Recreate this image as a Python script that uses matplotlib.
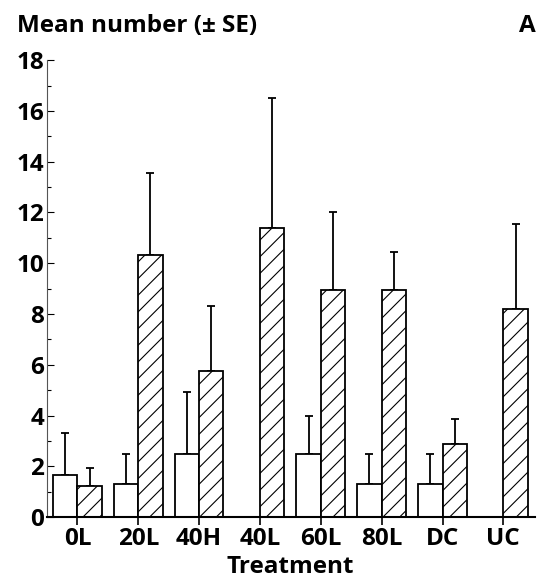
import numpy as np
import matplotlib
matplotlib.use("Agg")
import matplotlib.pyplot as plt
from matplotlib.ticker import MultipleLocator

treatments = ["0L", "20L", "40H", "40L", "60L", "80L", "DC", "UC"]
open_mean = [1.67, 1.29, 2.5, 0, 2.5, 1.29, 1.29, 0]
open_se = [1.65, 1.21, 2.43, 0, 1.47, 1.21, 1.21, 0]
hatch_mean = [1.23, 10.34, 5.76, 11.37, 8.96, 8.96, 2.88, 8.2]
hatch_se = [0.72, 3.22, 2.56, 5.13, 3.04, 1.47, 0.97, 3.35]

plt.rcParams['font.family'] = ['Open Sans', 'DejaVu Sans']
plt.rcParams['hatch.linewidth'] = 0.8

fig = plt.figure(figsize=(5.38, 5.79), dpi=100)
ax = fig.add_axes([0.0874, 0.107, 0.907, 0.789])

x = np.arange(len(treatments))
w = 0.4

# only the upper error bar is drawn
ax.bar(x - w / 2, open_mean, w, color="white", edgecolor="black", linewidth=1.3, zorder=2)
ax.bar(x + w / 2, hatch_mean, w, color="white", edgecolor="black", linewidth=1.3,
       hatch="//", zorder=2)

for xi, m, e in zip(x - w / 2, open_mean, open_se):
    if m > 0:
        ax.errorbar(xi, m, yerr=[[0], [e]], fmt="none", ecolor="black",
                    elinewidth=1.3, capsize=3, capthick=1.3, zorder=1)
for xi, m, e in zip(x + w / 2, hatch_mean, hatch_se):
    if m > 0:
        ax.errorbar(xi, m, yerr=[[0], [e]], fmt="none", ecolor="black",
                    elinewidth=1.3, capsize=3, capthick=1.3, zorder=1)

ax.set_xlim(-0.5, 7.52)
ax.set_ylim(0, 18)
ax.set_xticks(x)
ax.set_xticklabels(treatments, fontsize=17.5, fontweight="bold")
ax.yaxis.set_major_locator(MultipleLocator(2))
ax.yaxis.set_minor_locator(MultipleLocator(1))
for lab in ax.get_yticklabels():
    lab.set_fontsize(17.5)
    lab.set_fontweight("bold")

ax.tick_params(axis="y", which="major", direction="in", length=5, width=0.8, pad=2)
ax.tick_params(axis="y", which="minor", direction="in", length=3, width=0.8)
ax.tick_params(axis="x", which="major", direction="out", length=6, width=1.2, pad=1)

ax.spines["top"].set_visible(False)
ax.spines["right"].set_visible(False)
ax.spines["left"].set_linewidth(0.8)
ax.spines["left"].set_color("#555555")
ax.spines["bottom"].set_linewidth(1.5)

fig.text(0.54, 0.021, "Treatment", fontsize=17.5, fontweight="bold",
         ha="center", va="center")
fig.text(0.032, 0.955, "Mean number (\u00b1 SE)", fontsize=17.5, fontweight="bold",
         ha="left", va="center")
fig.text(0.995, 0.955, "A", fontsize=17.5, fontweight="bold", ha="right", va="center")

fig.savefig("out.png", dpi=100)
